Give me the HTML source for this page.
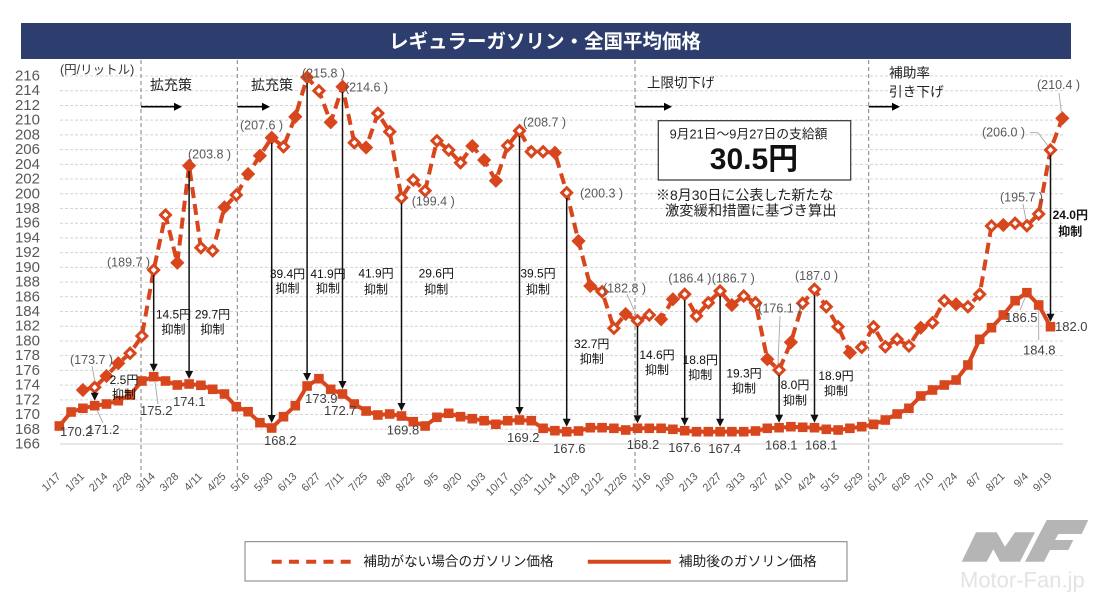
<!DOCTYPE html>
<html><head><meta charset="utf-8">
<style>
html,body{margin:0;padding:0;background:#fff;}
svg{display:block;}
text{font-family:"Liberation Sans","Noto Sans CJK JP",sans-serif;}
</style></head>
<body>
<svg width="1100" height="599" viewBox="0 0 1100 599" xmlns="http://www.w3.org/2000/svg">
<defs>
<marker id="sq" markerUnits="userSpaceOnUse" markerWidth="14" markerHeight="14" refX="7" refY="7" viewBox="0 0 14 14" overflow="visible">
<rect x="2.2" y="2.2" width="9.6" height="9.6" fill="#d8461e"/>
</marker>
<marker id="dm" markerUnits="userSpaceOnUse" markerWidth="14" markerHeight="14" refX="7" refY="7" viewBox="0 0 14 14" overflow="visible">
<path d="M7 2 L12 7 L7 12 L2 7 Z" fill="#fff" stroke="#d8461e" stroke-width="3"/>
</marker>
</defs>

<!-- title bar -->
<rect x="21" y="23" width="1050" height="36" fill="#2d3e6e"/>
<text x="545" y="42" fill="#fff" font-size="19.5" font-weight="bold" text-anchor="middle" dominant-baseline="central">レギュラーガソリン・全国平均価格</text>

<!-- gridlines -->
<path d="M60 76H1063M60 90.72H1063M60 105.44H1063M60 120.16H1063M60 134.88H1063M60 149.6H1063M60 164.32H1063M60 179.04H1063M60 193.76H1063M60 208.48H1063M60 223.2H1063M60 237.92H1063M60 252.64H1063M60 267.36H1063M60 282.08H1063M60 296.8H1063M60 311.52H1063M60 326.24H1063M60 340.96H1063M60 355.68H1063M60 370.4H1063M60 385.12H1063M60 399.84H1063M60 414.56H1063M60 429.28H1063" stroke="#d4d4d4" stroke-width="1" stroke-dasharray="3 2" fill="none"/>
<line x1="60" y1="444" x2="1063" y2="444" stroke="#d9d9d9" stroke-width="1.3"/>

<!-- y labels -->
<g font-size="15" fill="#595959" text-anchor="end" dominant-baseline="central">
<text x="40" y="76">216</text><text x="40" y="90.72">214</text><text x="40" y="105.44">212</text><text x="40" y="120.16">210</text><text x="40" y="134.88">208</text><text x="40" y="149.6">206</text><text x="40" y="164.32">204</text><text x="40" y="179.04">202</text><text x="40" y="193.76">200</text><text x="40" y="208.48">198</text><text x="40" y="223.2">196</text><text x="40" y="237.92">194</text><text x="40" y="252.64">192</text><text x="40" y="267.36">190</text><text x="40" y="282.08">188</text><text x="40" y="296.8">186</text><text x="40" y="311.52">184</text><text x="40" y="326.24">182</text><text x="40" y="340.96">180</text><text x="40" y="355.68">178</text><text x="40" y="370.4">176</text><text x="40" y="385.12">174</text><text x="40" y="399.84">172</text><text x="40" y="414.56">170</text><text x="40" y="429.28">168</text><text x="40" y="444">166</text>
</g>
<text x="60" y="70" font-size="12.5" fill="#333" dominant-baseline="central">(円/リットル)</text>

<!-- separators -->
<g stroke="#808080" stroke-width="1" stroke-dasharray="4 3">
<line x1="141" y1="60" x2="141" y2="482"/>
<line x1="237.3" y1="60" x2="237.3" y2="482"/>
<line x1="635" y1="60" x2="635" y2="482"/>
<line x1="868.7" y1="60" x2="868.7" y2="482"/>
</g>

<!-- section labels & arrows -->
<g font-size="14" fill="#222" dominant-baseline="central">
<text x="150" y="85">拡充策</text>
<text x="251" y="85">拡充策</text>
<text x="647" y="83" font-size="13.5">上限切下げ</text>
<text x="889" y="73" font-size="13.7">補助率</text>
<text x="889" y="92" font-size="13.7">引き下げ</text>
</g>
<g stroke="#000" stroke-width="1.6">
<line x1="141" y1="106.7" x2="175" y2="106.7"/>
<line x1="237.3" y1="106.7" x2="263" y2="106.7"/>
<line x1="635" y1="106.7" x2="665" y2="106.7"/>
<line x1="868.7" y1="106.7" x2="893" y2="106.7"/>
</g>
<g fill="#000">
<polygon points="174,102.7 182,106.7 174,110.7"/>
<polygon points="262,102.7 270,106.7 262,110.7"/>
<polygon points="664,102.7 672,106.7 664,110.7"/>
<polygon points="892,102.7 900,106.7 892,110.7"/>
</g>

<!-- info box -->
<rect x="658.3" y="120.7" width="192.4" height="59.3" fill="#fff" stroke="#333" stroke-width="1.2"/>
<text x="748.5" y="134" font-size="12.8" fill="#222" text-anchor="middle" dominant-baseline="central">9月21日～9月27日の支給額</text>
<text x="754" y="159.5" font-size="30" font-weight="bold" fill="#111" text-anchor="middle" dominant-baseline="central">30.5円</text>
<text x="656" y="195" font-size="14" fill="#222" dominant-baseline="central">※8月30日に公表した新たな</text>
<text x="665" y="211.7" font-size="14.3" fill="#222" dominant-baseline="central">激変緩和措置に基づき算出</text>

<!-- solid series -->
<polyline fill="none" stroke="#d8461e" stroke-width="4" stroke-linejoin="round" marker-start="url(#sq)" marker-mid="url(#sq)" marker-end="url(#sq)" points="59.3,426 71.1,412 82.9,408.3 94.7,405.7 106.5,404 118.3,400.7 130.1,395 141.9,381 153.7,376.7 165.5,381 177.3,385 189.1,384 200.9,385.3 212.7,389.3 224.5,394 236.3,406.7 248.1,411.7 259.9,422.7 271.7,428 283.5,416.7 295.3,405.7 307.1,386 318.9,378.7 330.7,389.3 342.5,394 354.3,404 366.1,411 377.9,415 389.7,414 401.5,416 413.3,421.7 425.1,426 436.9,417.3 448.7,413.3 460.5,416.7 472.3,418.7 484.1,420.7 495.9,424.3 507.7,420.7 519.5,420 531.3,420.7 543.1,428.3 554.9,430.7 566.7,431.7 578.5,431 590.3,427.7 602.1,427.7 613.9,428.3 625.7,430 637.5,428.3 649.3,428.3 661.1,428.3 672.9,429.3 684.7,430.7 696.5,431.7 708.3,431.7 720.1,431.7 731.9,431.7 743.7,431.7 755.5,431 767.3,428.3 779.1,427.7 790.9,426.7 802.7,427.3 814.5,427.7 826.3,429.3 838.1,430 849.9,428.3 861.7,426.7 873.5,424.3 885.3,420 897.1,414 908.9,408.3 920.7,396 932.5,390 944.3,385 956.1,380 967.9,365 979.7,339.3 991.5,327.7 1003.3,315 1015.1,300.7 1026.9,292.7 1038.7,305 1050.5,326.7"/>

<!-- dashed series -->
<polyline fill="none" stroke="#d8461e" stroke-width="4" stroke-dasharray="11 6" points="82.9,390 94.7,387.3 106.5,376 118.3,363.3 130.1,353.3 141.9,336 153.7,270 165.5,215 177.3,262.7 189.1,165.7 200.9,247.7 212.7,250.7 224.5,207.3 236.3,195 248.1,174 259.9,155.7 271.7,137.7 283.5,146.7 295.3,116.7 307.1,77.3 318.9,90.7 330.7,122.3 342.5,86.7 354.3,142.7 366.1,147.5 377.9,113.3 389.7,131.7 401.5,197.7 413.3,180 425.1,190.7 436.9,140.7 448.7,150 460.5,162.7 472.3,146 484.1,160 495.9,180.7 507.7,145.7 519.5,130.7 531.3,151.7 543.1,151.7 554.9,152.7 566.7,192.7 578.5,241 590.3,286 602.1,291.7 613.9,328.3 625.7,314 637.5,320.7 649.3,315 661.1,319.3 672.9,299.3 684.7,294.3 696.5,316 708.3,302.7 720.1,291 731.9,305 743.7,296 755.5,302.7 767.3,359.3 779.1,370 790.9,342.3 802.7,303.3 814.5,289.3 826.3,306.7 838.1,326.7 849.9,352.7 861.7,347.3 873.5,326.7 885.3,346.7 897.1,339.3 908.9,346 920.7,327.7 932.5,322.7 944.3,300.7 956.1,304.3 967.9,306.7 979.7,294.3 991.5,226 1003.3,225 1015.1,223.3 1026.9,225.7 1038.7,214 1050.5,150 1062.3,118.3"/>
<polyline fill="none" stroke="none" marker-start="url(#dm)" marker-mid="url(#dm)" marker-end="url(#dm)" points="82.9,390 94.7,387.3 106.5,376 118.3,363.3 130.1,353.3 141.9,336 153.7,270 165.5,215 177.3,262.7 189.1,165.7 200.9,247.7 212.7,250.7 224.5,207.3 236.3,195 248.1,174 259.9,155.7 271.7,137.7 283.5,146.7 295.3,116.7 307.1,77.3 318.9,90.7 330.7,122.3 342.5,86.7 354.3,142.7 366.1,147.5 377.9,113.3 389.7,131.7 401.5,197.7 413.3,180 425.1,190.7 436.9,140.7 448.7,150 460.5,162.7 472.3,146 484.1,160 495.9,180.7 507.7,145.7 519.5,130.7 531.3,151.7 543.1,151.7 554.9,152.7 566.7,192.7 578.5,241 590.3,286 602.1,291.7 613.9,328.3 625.7,314 637.5,320.7 649.3,315 661.1,319.3 672.9,299.3 684.7,294.3 696.5,316 708.3,302.7 720.1,291 731.9,305 743.7,296 755.5,302.7 767.3,359.3 779.1,370 790.9,342.3 802.7,303.3 814.5,289.3 826.3,306.7 838.1,326.7 849.9,352.7 861.7,347.3 873.5,326.7 885.3,346.7 897.1,339.3 908.9,346 920.7,327.7 932.5,322.7 944.3,300.7 956.1,304.3 967.9,306.7 979.7,294.3 991.5,226 1003.3,225 1015.1,223.3 1026.9,225.7 1038.7,214 1050.5,150 1062.3,118.3"/>
<path fill="#d8461e" d="M82.9 384.5l5.5 5.5-5.5 5.5-5.5-5.5zM106.5 370.5l5.5 5.5-5.5 5.5-5.5-5.5zM118.3 357.8l5.5 5.5-5.5 5.5-5.5-5.5zM177.3 257.2l5.5 5.5-5.5 5.5-5.5-5.5zM189.1 160.2l5.5 5.5-5.5 5.5-5.5-5.5zM224.5 201.8l5.5 5.5-5.5 5.5-5.5-5.5zM248.1 168.5l5.5 5.5-5.5 5.5-5.5-5.5zM259.9 150.2l5.5 5.5-5.5 5.5-5.5-5.5zM271.7 132.2l5.5 5.5-5.5 5.5-5.5-5.5zM295.3 111.2l5.5 5.5-5.5 5.5-5.5-5.5zM307.1 71.8l5.5 5.5-5.5 5.5-5.5-5.5zM330.7 116.8l5.5 5.5-5.5 5.5-5.5-5.5zM342.5 81.2l5.5 5.5-5.5 5.5-5.5-5.5zM366.1 142l5.5 5.5-5.5 5.5-5.5-5.5zM472.3 140.5l5.5 5.5-5.5 5.5-5.5-5.5zM484.1 154.5l5.5 5.5-5.5 5.5-5.5-5.5zM495.9 175.2l5.5 5.5-5.5 5.5-5.5-5.5zM554.9 147.2l5.5 5.5-5.5 5.5-5.5-5.5zM578.5 235.5l5.5 5.5-5.5 5.5-5.5-5.5zM590.3 280.5l5.5 5.5-5.5 5.5-5.5-5.5zM625.7 308.5l5.5 5.5-5.5 5.5-5.5-5.5zM661.1 313.8l5.5 5.5-5.5 5.5-5.5-5.5zM672.9 293.8l5.5 5.5-5.5 5.5-5.5-5.5zM731.9 299.5l5.5 5.5-5.5 5.5-5.5-5.5zM767.3 353.8l5.5 5.5-5.5 5.5-5.5-5.5zM790.9 336.8l5.5 5.5-5.5 5.5-5.5-5.5zM849.9 347.2l5.5 5.5-5.5 5.5-5.5-5.5zM920.7 322.2l5.5 5.5-5.5 5.5-5.5-5.5zM956.1 298.8l5.5 5.5-5.5 5.5-5.5-5.5zM1003.3 219.5l5.5 5.5-5.5 5.5-5.5-5.5zM1062.3 112.8l5.5 5.5-5.5 5.5-5.5-5.5z"/>

<!-- vertical arrows -->
<g stroke="#111" stroke-width="1.5">
<line x1="94.7" y1="392" x2="94.7" y2="393"/>
<line x1="153.7" y1="275" x2="153.7" y2="364"/>
<line x1="189.1" y1="171" x2="189.1" y2="371"/>
<line x1="271.7" y1="143" x2="271.7" y2="415"/>
<line x1="307.1" y1="83" x2="307.1" y2="373"/>
<line x1="342.5" y1="92" x2="342.5" y2="381"/>
<line x1="401.5" y1="203" x2="401.5" y2="403"/>
<line x1="519.5" y1="136" x2="519.5" y2="407"/>
<line x1="566.7" y1="198" x2="566.7" y2="419"/>
<line x1="637.5" y1="326" x2="637.5" y2="415"/>
<line x1="684.7" y1="300" x2="684.7" y2="418"/>
<line x1="720.1" y1="296" x2="720.1" y2="419"/>
<line x1="779.1" y1="375" x2="779.1" y2="415"/>
<line x1="814.5" y1="295" x2="814.5" y2="415"/>
<line x1="1050.5" y1="155" x2="1050.5" y2="314"/>
</g>
<g fill="#111">
<polygon points="90.7,392.7 98.7,392.7 94.7,400.7"/>
<polygon points="149.7,363.7 157.7,363.7 153.7,371.7"/>
<polygon points="185.1,371 193.1,371 189.1,379"/>
<polygon points="267.7,415 275.7,415 271.7,423"/>
<polygon points="303.1,373 311.1,373 307.1,381"/>
<polygon points="338.5,381 346.5,381 342.5,389"/>
<polygon points="397.5,403 405.5,403 401.5,411"/>
<polygon points="515.5,407 523.5,407 519.5,415"/>
<polygon points="562.7,418.7 570.7,418.7 566.7,426.7"/>
<polygon points="633.5,415.3 641.5,415.3 637.5,423.3"/>
<polygon points="680.7,417.7 688.7,417.7 684.7,425.7"/>
<polygon points="716.1,418.7 724.1,418.7 720.1,426.7"/>
<polygon points="775.1,414.7 783.1,414.7 779.1,422.7"/>
<polygon points="810.5,414.7 818.5,414.7 814.5,422.7"/>
<polygon points="1046.5,313.7 1054.5,313.7 1050.5,321.7"/>
</g>

<!-- leader lines -->
<g stroke="#a6a6a6" stroke-width="0.9" fill="none">
<line x1="92" y1="366" x2="95" y2="382"/>
<line x1="155" y1="382" x2="158" y2="404"/>
<line x1="97" y1="410" x2="103" y2="423"/>
<line x1="780" y1="316" x2="778" y2="364"/>
<line x1="627" y1="294" x2="636" y2="315"/>
<line x1="1023" y1="204" x2="1026" y2="220"/>
<polyline points="1030,132.7 1038,132.7 1048,146"/>
<line x1="1059" y1="93" x2="1061.5" y2="113"/>
<line x1="1038.7" y1="310" x2="1038.7" y2="340"/>
<line x1="1020" y1="310" x2="1025" y2="298"/>
</g>

<!-- parenthesis labels -->
<g font-size="12.5" fill="#595959" dominant-baseline="central">
<text x="70" y="360">(173.7 )</text>
<text x="107" y="262.7">(189.7 )</text>
<text x="188" y="154.3">(203.8 )</text>
<text x="240" y="125.7">(207.6 )</text>
<text x="302" y="73.3">(215.8 )</text>
<text x="345" y="87.7">(214.6 )</text>
<text x="411.7" y="201.7">(199.4 )</text>
<text x="523" y="122.7">(208.7 )</text>
<text x="580" y="193.3">(200.3 )</text>
<text x="603" y="288.3">(182.8 )</text>
<text x="668.3" y="278.3">(186.4 )</text>
<text x="711.7" y="278.3">(186.7 )</text>
<text x="758.3" y="308.3">(176.1 )</text>
<text x="795" y="276">(187.0 )</text>
<text x="1000" y="197.7">(195.7 )</text>
<text x="982" y="132.7">(206.0 )</text>
<text x="1037" y="85">(210.4 )</text>
</g>

<!-- suppression labels -->
<g font-size="12" fill="#111" text-anchor="middle" dominant-baseline="central">
<text x="124" y="380">2.5円</text><text x="124" y="394.3">抑制</text>
<text x="173.5" y="314.3">14.5円</text><text x="173.5" y="329.3">抑制</text>
<text x="212.5" y="314.3">29.7円</text><text x="212.5" y="329.3">抑制</text>
<text x="287.5" y="274">39.4円</text><text x="287.5" y="288.3">抑制</text>
<text x="328" y="274">41.9円</text><text x="328" y="288.3">抑制</text>
<text x="376" y="273.3">41.9円</text><text x="376" y="289.3">抑制</text>
<text x="436.3" y="273.3">29.6円</text><text x="436.3" y="289.3">抑制</text>
<text x="538" y="273.3">39.5円</text><text x="538" y="289.3">抑制</text>
<text x="591.7" y="344">32.7円</text><text x="591.7" y="359">抑制</text>
<text x="657" y="355">14.6円</text><text x="657" y="370">抑制</text>
<text x="700.3" y="360">18.8円</text><text x="700.3" y="375">抑制</text>
<text x="744" y="373.3">19.3円</text><text x="744" y="388.3">抑制</text>
<text x="795" y="385">8.0円</text><text x="795" y="400.7">抑制</text>
<text x="836" y="376">18.9円</text><text x="836" y="391">抑制</text>
<text x="1070.3" y="215" font-weight="bold">24.0円</text><text x="1070.3" y="231.7" font-weight="bold">抑制</text>
</g>

<!-- value labels -->
<g font-size="13" fill="#404040" dominant-baseline="central">
<text x="60" y="431.7">170.2</text>
<text x="87" y="429.3">171.2</text>
<text x="140" y="410.7">175.2</text>
<text x="173" y="401.7">174.1</text>
<text x="264" y="440.7">168.2</text>
<text x="305" y="398.3">173.9</text>
<text x="324" y="410.7">172.7</text>
<text x="386.7" y="430">169.8</text>
<text x="507" y="437.7">169.2</text>
<text x="553" y="448.3">167.6</text>
<text x="626.7" y="444.3">168.2</text>
<text x="668.3" y="447.3">167.6</text>
<text x="708.3" y="448.3">167.4</text>
<text x="765" y="445">168.1</text>
<text x="805" y="445">168.1</text>
<text x="1005" y="317.7">186.5</text>
<text x="1055" y="326.7">182.0</text>
<text x="1023" y="350">184.8</text>
</g>

<!-- x labels -->
<g font-size="11" fill="#595959" text-anchor="end">
<text transform="translate(61.3,477) rotate(-45)">1/17</text>
<text transform="translate(84.9,477) rotate(-45)">1/31</text>
<text transform="translate(108.5,477) rotate(-45)">2/14</text>
<text transform="translate(132.1,477) rotate(-45)">2/28</text>
<text transform="translate(155.7,477) rotate(-45)">3/14</text>
<text transform="translate(179.3,477) rotate(-45)">3/28</text>
<text transform="translate(202.9,477) rotate(-45)">4/11</text>
<text transform="translate(226.5,477) rotate(-45)">4/25</text>
<text transform="translate(250.1,477) rotate(-45)">5/16</text>
<text transform="translate(273.7,477) rotate(-45)">5/30</text>
<text transform="translate(297.3,477) rotate(-45)">6/13</text>
<text transform="translate(320.9,477) rotate(-45)">6/27</text>
<text transform="translate(344.5,477) rotate(-45)">7/11</text>
<text transform="translate(368.1,477) rotate(-45)">7/25</text>
<text transform="translate(391.7,477) rotate(-45)">8/8</text>
<text transform="translate(415.3,477) rotate(-45)">8/22</text>
<text transform="translate(438.9,477) rotate(-45)">9/5</text>
<text transform="translate(462.5,477) rotate(-45)">9/20</text>
<text transform="translate(486.1,477) rotate(-45)">10/3</text>
<text transform="translate(509.7,477) rotate(-45)">10/17</text>
<text transform="translate(533.3,477) rotate(-45)">10/31</text>
<text transform="translate(556.9,477) rotate(-45)">11/14</text>
<text transform="translate(580.5,477) rotate(-45)">11/28</text>
<text transform="translate(604.1,477) rotate(-45)">12/12</text>
<text transform="translate(627.7,477) rotate(-45)">12/26</text>
<text transform="translate(651.3,477) rotate(-45)">1/16</text>
<text transform="translate(674.9,477) rotate(-45)">1/30</text>
<text transform="translate(698.5,477) rotate(-45)">2/13</text>
<text transform="translate(722.1,477) rotate(-45)">2/27</text>
<text transform="translate(745.7,477) rotate(-45)">3/13</text>
<text transform="translate(769.3,477) rotate(-45)">3/27</text>
<text transform="translate(792.9,477) rotate(-45)">4/10</text>
<text transform="translate(816.5,477) rotate(-45)">4/24</text>
<text transform="translate(840.1,477) rotate(-45)">5/15</text>
<text transform="translate(863.7,477) rotate(-45)">5/29</text>
<text transform="translate(887.3,477) rotate(-45)">6/12</text>
<text transform="translate(910.9,477) rotate(-45)">6/26</text>
<text transform="translate(934.5,477) rotate(-45)">7/10</text>
<text transform="translate(958.1,477) rotate(-45)">7/24</text>
<text transform="translate(981.7,477) rotate(-45)">8/7</text>
<text transform="translate(1005.3,477) rotate(-45)">8/21</text>
<text transform="translate(1028.9,477) rotate(-45)">9/4</text>
<text transform="translate(1052.5,477) rotate(-45)">9/19</text>
</g>

<!-- legend -->
<rect x="245" y="541.7" width="602" height="39.3" fill="#fff" stroke="#7f7f7f" stroke-width="1"/>
<line x1="271.7" y1="561.7" x2="350.7" y2="561.7" stroke="#d8461e" stroke-width="4" stroke-dasharray="10 7.25"/>
<text x="363.3" y="561.7" font-size="13.6" fill="#222" dominant-baseline="central">補助がない場合のガソリン価格</text>
<line x1="587.8" y1="561.7" x2="670.8" y2="561.7" stroke="#d8461e" stroke-width="4"/>
<text x="678.7" y="561.7" font-size="13.8" fill="#222" dominant-baseline="central">補助後のガソリン価格</text>

<!-- logo -->
<g fill="#b5b5b5">
<polygon points="961.7,561.7 976,532.3 996.7,532.3 1005,546.7 1015,532.3 1035,532.3 1020,561.7 1000,561.7 993.3,549.3 986.7,561.7"/>
<polygon points="1025,561.7 1046.7,520 1088.3,520 1081.7,534 1058.3,534 1055,540 1073.3,540 1068.3,550 1050,550 1044,561.7"/>
</g>
<text x="960" y="580" font-size="22" fill="#e3e3e3" dominant-baseline="central">Motor-Fan.jp</text>
</svg>
</body></html>
